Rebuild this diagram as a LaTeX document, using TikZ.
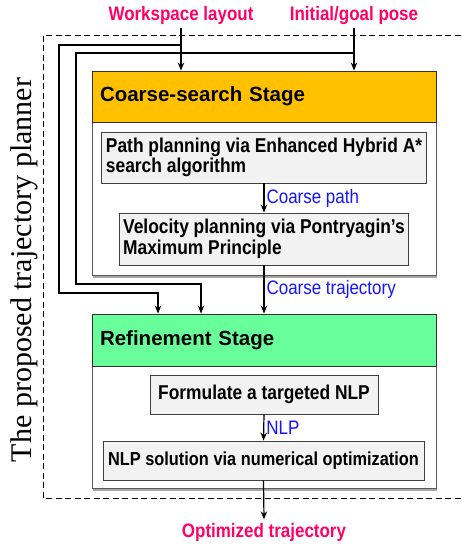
\documentclass[tikz,border=0pt]{standalone}
\usepackage{fontspec}
\setmainfont{Liberation Sans}
\newfontfamily\narrowfont[FakeStretch=0.87]{Liberation Sans}
\newfontfamily\titlefont{Liberation Serif}
\usetikzlibrary{shapes.geometric, arrows.meta, shadows}
\definecolor{coarseorange}{HTML}{FFC000}
\definecolor{refinegreen}{HTML}{68FF9B}
\definecolor{boxgray}{HTML}{F2F2F2}
\definecolor{portpink}{HTML}{FF0066}
\definecolor{signalblue}{HTML}{1414FF}
\newcommand{\boxfont}{\narrowfont\bfseries\fontsize{20}{20.5}\selectfont}
\newcommand{\headfont}{\bfseries\fontsize{20.5}{22}\selectfont}
\tikzstyle{stagebody} = [rectangle, minimum width=344pt, draw=black!65, line width=0.9pt, fill=white, drop shadow={shadow xshift=1pt, shadow yshift=-2.5pt, fill=black!35, opacity=1}]
\tikzstyle{stagehead} = [rectangle, minimum width=344pt, minimum height=51pt, text width=328pt, inner xsep=8pt, align=left, draw=black!80, line width=0.9pt, font=\headfont]
\tikzstyle{process} = [rectangle, align=left, inner xsep=4pt, draw=black!75, line width=0.9pt, fill=boxgray, font=\boxfont]
\tikzstyle{port} = [text=portpink, font={\narrowfont\bfseries\fontsize{19.5}{20}\selectfont}]
\tikzstyle{signal} = [text=signalblue, font={\narrowfont\fontsize{19.5}{20}\selectfont}, inner sep=2pt]
\tikzstyle{arrow} = [line width=1.2pt,->,>={Stealth[length=8pt,width=6.5pt]}]

\begin{document}
\begin{tikzpicture}[x=1pt, y=-1pt]
\useasboundingbox (0,0) rectangle (462,547);
\draw [dashed, dash pattern=on 6pt off 3.5pt, line width=0.7pt] (470,35) -| (43,498) -- (470,498);
\node (title) [rotate=90, font={\titlefont\fontsize{30}{32}\selectfont}] at (24,270) {The proposed trajectory planner};

\node (ws) [port] at (181,15) {Workspace layout};
\node (pose) [port] at (354,15) {Initial/goal pose};

\node (coarsebody) [stagebody, minimum height=204pt] at (264,173) {};
\node (coarsehead) [stagehead, fill=coarseorange] at (264,96.5) {Coarse-search Stage};
\node (pathplan) [process, minimum width=324pt, minimum height=51pt] at (264,157.5) {Path planning via Enhanced Hybrid A*\\search algorithm};
\node (velplan) [process, minimum width=288pt, minimum height=52pt] at (264,239) {Velocity planning via Pontryagin’s\\Maximum Principle};

\node (refinebody) [stagebody, minimum height=174pt] at (264,401) {};
\node (refinehead) [stagehead, fill=refinegreen, minimum height=52pt] at (264,340) {Refinement Stage};
\node (formulate) [process, minimum width=228pt, minimum height=39pt] at (264,394.5) {Formulate a targeted NLP};
\node (solve) [process, minimum width=321pt, minimum height=39pt, inner xsep=3pt, font={\narrowfont\bfseries\fontsize{18.8}{20}\selectfont}] at (263.5,460.5) {NLP solution via numerical optimization};

\node (out) [port] at (264,532) {Optimized trajectory};

\coordinate (wsfork) at (181,45);
\coordinate (posefork) at (354,53);

\draw [arrow] (ws.south) -- (ws.south |- coarsehead.north);
\draw [arrow] (pose.south) -- (pose.south |- coarsehead.north);
\draw [arrow] (wsfork) -| (59,293) -| ([xshift=-106pt]refinehead.north);
\draw [arrow] (posefork) -| (76,284) -| ([xshift=-63pt]refinehead.north);
\draw [arrow] (pathplan.south) -- node[signal, anchor=west] {Coarse path} (velplan.north);
\draw [arrow] (velplan.south) -- node[signal, anchor=west] {Coarse trajectory} (refinehead.north);
\draw [arrow] (formulate.south) -- node[signal, anchor=west] {NLP} (solve.north);
\draw [arrow] (solve.south) -- (out.north);
\end{tikzpicture}
\end{document}
